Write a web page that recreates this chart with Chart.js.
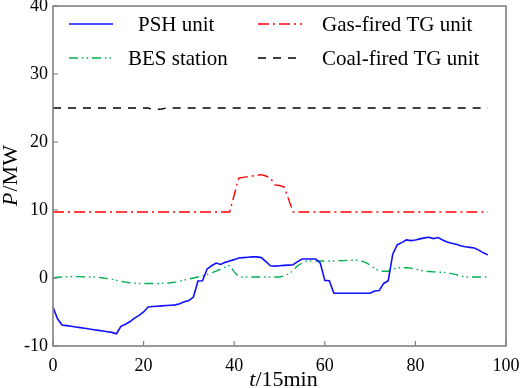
<!DOCTYPE html>
<html>
<head>
<meta charset="utf-8">
<script src="https://cdn.jsdelivr.net/npm/chart.js@4/dist/chart.umd.min.js"></script>
<style>
  html, body { margin: 0; padding: 0; background: #fff; }
  #wrap { width: 526px; height: 388px; }
</style>
</head>
<body>
<div id="wrap"><canvas id="chart"></canvas></div>
<script>
// time steps 0..96 (15 min each)
const steps = Array.from({ length: 97 }, (_, i) => i);

const pshUnit = [
  -4.3, -6.0, -6.9, -7.0, -7.1, -7.2, -7.3, -7.4, -7.5, -7.6,
  -7.7, -7.8, -7.9, -8.0, -8.2, -7.1, -6.8, -6.4, -5.9, -5.5,
  -5.0, -4.25, -4.2, -4.15, -4.1, -4.05, -4.0, -3.95, -3.8, -3.5,
  -3.3, -2.8, -0.45, -0.4, 1.3, 1.8, 2.2, 2.0, 2.3, 2.5,
  2.7, 2.95, 3.0, 3.05, 3.1, 3.1, 3.0, 2.4, 1.8, 1.75,
  1.8, 1.85, 1.9, 1.95, 2.4, 2.8, 2.8, 2.8, 2.8, 2.2,
  -0.35, -0.4, -2.25, -2.25, -2.25, -2.25, -2.25, -2.25, -2.25, -2.25,
  -2.25, -1.9, -1.85, -0.8, -0.4, 3.5, 4.9, 5.2, 5.6, 5.5,
  5.6, 5.75, 5.9, 6.0, 5.8, 5.95, 5.6, 5.3, 5.1, 4.95,
  4.75, 4.6, 4.5, 4.4, 4.1, 3.7, 3.4
];

const gasTG = [
  9.7, 9.7, 9.7, 9.7, 9.7, 9.7, 9.7, 9.7, 9.7, 9.7,
  9.7, 9.7, 9.7, 9.7, 9.7, 9.7, 9.7, 9.7, 9.7, 9.7,
  9.7, 9.7, 9.7, 9.7, 9.7, 9.7, 9.7, 9.7, 9.7, 9.7,
  9.7, 9.7, 9.7, 9.7, 9.7, 9.7, 9.7, 9.7, 9.7, 9.7,
  12.2, 14.7, 14.8, 14.9, 15.0, 15.1, 15.2, 15.0, 14.7, 13.7,
  13.6, 13.4, 11.6, 9.7, 9.7, 9.7, 9.7, 9.7, 9.7, 9.7,
  9.7, 9.7, 9.7, 9.7, 9.7, 9.7, 9.7, 9.7, 9.7, 9.7,
  9.7, 9.7, 9.7, 9.7, 9.7, 9.7, 9.7, 9.7, 9.7, 9.7,
  9.7, 9.7, 9.7, 9.7, 9.7, 9.7, 9.7, 9.7, 9.7, 9.7,
  9.7, 9.7, 9.7, 9.7, 9.7, 9.7, 9.7
];

const besStation = [
  0.0, 0.1, 0.15, 0.15, 0.2, 0.2, 0.2, 0.15, 0.15, 0.15,
  0.1, 0.0, -0.1, -0.2, -0.35, -0.5, -0.6, -0.7, -0.75, -0.8,
  -0.8, -0.8, -0.8, -0.8, -0.8, -0.75, -0.7, -0.6, -0.45, -0.3,
  -0.15, 0.0, 0.15, 0.3, 0.5, 0.75, 1.0, 1.3, 1.6, 1.85,
  0.9, 0.2, 0.15, 0.15, 0.15, 0.15, 0.15, 0.15, 0.15, 0.15,
  0.15, 0.3, 0.6, 1.1, 1.8, 2.2, 2.5, 2.5, 2.5, 2.5,
  2.5, 2.5, 2.5, 2.55, 2.55, 2.6, 2.6, 2.6, 2.5, 2.3,
  1.9, 1.4, 1.05, 1.0, 1.0, 1.3, 1.5, 1.5, 1.5, 1.45,
  1.3, 1.15, 1.0, 0.95, 0.9, 0.85, 0.85, 0.75, 0.65, 0.5,
  0.3, 0.15, 0.15, 0.15, 0.15, 0.15, 0.15
];

const coalTG = steps.map(() => 25);
coalTG[22] = 24.8;
coalTG[23] = 24.8;
coalTG[24] = 24.85;

const xTicks = [0, 20, 40, 60, 80, 100];
const yTicks = [-10, 0, 10, 20, 30, 40];

const serif = "'Liberation Serif', 'Times New Roman', serif";

function pts(arr) {
  return arr.map((v, i) => ({ x: steps[i], y: v }));
}

// legend: two columns inside the plot
const legendItems = [
  { idx: 0, row: 0, lineX: 69, textX: 138 },
  { idx: 1, row: 0, lineX: 258, textX: 322 },
  { idx: 2, row: 1, lineX: 69, textX: 128 },
  { idx: 3, row: 1, lineX: 258, textX: 322 }
];

const framePlugin = {
  id: "frame",
  afterDraw(chart) {
    const { ctx, chartArea: a, scales } = chart;
    ctx.save();
    // inward ticks
    ctx.strokeStyle = "#808080";
    ctx.lineWidth = 1.2;
    ctx.beginPath();
    xTicks.forEach(v => {
      const px = scales.x.getPixelForValue(v);
      ctx.moveTo(px, a.bottom);
      ctx.lineTo(px, a.bottom - 5);
    });
    yTicks.forEach(v => {
      const py = scales.y.getPixelForValue(v);
      ctx.moveTo(a.left, py);
      ctx.lineTo(a.left + 5, py);
    });
    ctx.stroke();
    // box
    ctx.lineWidth = 1.6;
    ctx.strokeRect(a.left, a.top, a.right - a.left, a.bottom - a.top);

    // legend
    const rowsY = [24, 58];
    ctx.font = "21px " + serif;
    ctx.textBaseline = "middle";
    ctx.fillStyle = "#000";
    legendItems.forEach(it => {
      const ds = chart.data.datasets[it.idx];
      const y = rowsY[it.row];
      ctx.strokeStyle = ds.borderColor;
      ctx.lineWidth = ds.borderWidth;
      ctx.setLineDash(ds.borderDash || []);
      ctx.beginPath();
      ctx.moveTo(it.lineX, y);
      ctx.lineTo(it.lineX + 44, y);
      ctx.stroke();
      ctx.setLineDash([]);
      ctx.fillText(ds.label, it.textX, y + 1);
    });

    // axis titles with italic variable
    ctx.textBaseline = "alphabetic";
    const xt1 = "t", xt2 = "/15min";
    ctx.font = "italic 22px " + serif;
    const w1 = ctx.measureText(xt1).width;
    ctx.font = "22px " + serif;
    const w2 = ctx.measureText(xt2).width;
    const sx = (a.left + a.right) / 2 + 4 - (w1 + w2) / 2;
    ctx.font = "italic 22px " + serif;
    ctx.fillText(xt1, sx, 386);
    ctx.font = "22px " + serif;
    ctx.fillText(xt2, sx + w1, 386);

    const yt1 = "P", yt2 = "/MW";
    ctx.font = "italic 22px " + serif;
    const v1 = ctx.measureText(yt1).width;
    ctx.font = "22px " + serif;
    const v2 = ctx.measureText(yt2).width;
    ctx.translate(17, (a.top + a.bottom) / 2);
    ctx.rotate(-Math.PI / 2);
    const sy = -(v1 + v2) / 2;
    ctx.font = "italic 22px " + serif;
    ctx.fillText(yt1, sy, 0);
    ctx.font = "22px " + serif;
    ctx.fillText(yt2, sy + v1 + 1, 0);
    ctx.restore();
  }
};

new Chart(document.getElementById("chart"), {
  type: "line",
  data: {
    datasets: [
      {
        label: "PSH unit",
        data: pts(pshUnit),
        borderColor: "#1010ff",
        borderWidth: 1.6,
        pointRadius: 0,
        tension: 0
      },
      {
        label: "Gas-fired TG unit",
        data: pts(gasTG),
        borderColor: "#ff0000",
        borderWidth: 1.4,
        borderDash: [11, 4, 2, 4],
        pointRadius: 0,
        tension: 0
      },
      {
        label: "BES station",
        data: pts(besStation),
        borderColor: "#00b050",
        borderWidth: 1.4,
        borderDash: [9, 4, 1.5, 3, 1.5, 4],
        pointRadius: 0,
        tension: 0
      },
      {
        label: "Coal-fired TG unit",
        data: pts(coalTG),
        borderColor: "#000000",
        borderWidth: 1.4,
        borderDash: [8, 7],
        pointRadius: 0,
        tension: 0
      }
    ]
  },
  options: {
    responsive: true,
    maintainAspectRatio: false,
    animation: false,
    layout: { padding: { top: 6, right: 20, left: 0, bottom: 0 } },
    plugins: {
      legend: { display: false },
      tooltip: { enabled: false }
    },
    scales: {
      x: {
        type: "linear",
        min: 0,
        max: 100,
        afterBuildTicks(scale) {
          scale.ticks = xTicks.map(v => ({ value: v }));
        },
        afterFit(scale) {
          scale.height = 42;
          scale.paddingLeft = 0;
          scale.paddingRight = 0;
        },
        grid: { display: false, drawTicks: false },
        border: { display: false },
        ticks: {
          color: "#000",
          padding: 9,
          maxRotation: 0,
          font: { family: serif, size: 18 }
        }
      },
      y: {
        min: -10,
        max: 40,
        afterBuildTicks(scale) {
          scale.ticks = yTicks.map(v => ({ value: v }));
        },
        afterFit(scale) {
          scale.width = 53;
          scale.paddingTop = 0;
          scale.paddingBottom = 0;
        },
        grid: { display: false, drawTicks: false },
        border: { display: false },
        ticks: {
          color: "#000",
          padding: 5,
          font: { family: serif, size: 18 }
        }
      }
    }
  },
  plugins: [framePlugin]
});
</script>
</body>
</html>
